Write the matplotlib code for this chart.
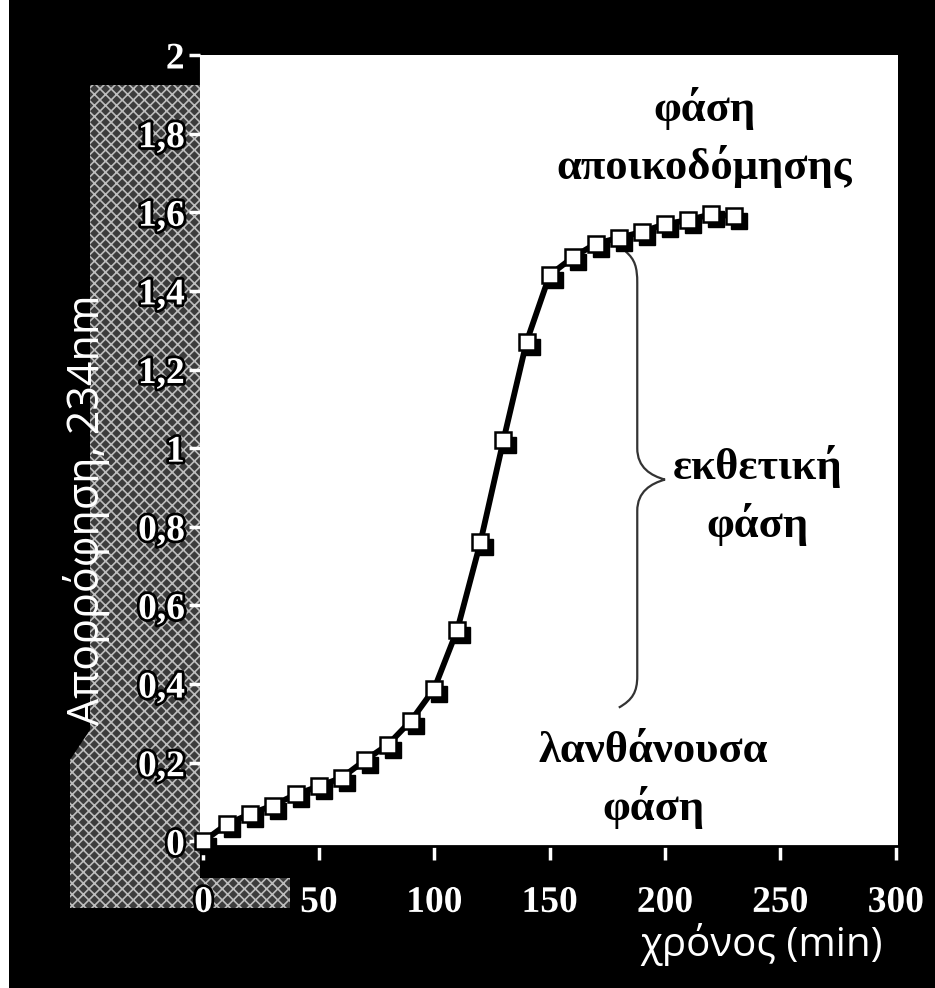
import numpy as np
import matplotlib.pyplot as plt
import matplotlib.patheffects as pe
from matplotlib.patches import Rectangle, Polygon, PathPatch
from matplotlib.path import Path
from matplotlib.transforms import offset_copy

# time (min) and absorbance at 234 nm
xronos = [0, 10, 20, 30, 40, 50, 60, 70, 80, 90, 100, 110, 120, 130, 140,
          150, 160, 170, 180, 190, 200, 210, 220, 230]
apor = [0.0, 0.043, 0.069, 0.091, 0.119, 0.14, 0.162, 0.206, 0.246, 0.307,
        0.388, 0.538, 0.76, 1.02, 1.27, 1.44, 1.485, 1.52, 1.535, 1.55,
        1.57, 1.58, 1.595, 1.59]

xticks = [0, 50, 100, 150, 200, 250, 300]
yticks = [0, 0.2, 0.4, 0.6, 0.8, 1.0, 1.2, 1.4, 1.6, 1.8, 2.0]
ylabels = ["0", "0,2", "0,4", "0,6", "0,8", "1", "1,2", "1,4", "1,6", "1,8", "2"]

W, H = 935, 988
fig = plt.figure(figsize=(W / 100, H / 100), dpi=100)
fig.patch.set_facecolor("black")

def px(x0, y0, w, h):
    # pixel box (top-left origin) -> figure fraction
    return (x0 / W, 1 - (y0 + h) / H, w / W, h / H)

# background layer in pixel coords: scanned-in grey band, white scan margin
bg = fig.add_axes([0, 0, 1, 1], zorder=-1)
bg.set_xlim(0, W)
bg.set_ylim(H, 0)
bg.axis("off")
plt.rcParams["hatch.linewidth"] = 1.2
bg.add_patch(Polygon([(90, 85), (200, 85), (200, 878), (290, 878), (290, 908),
                      (70, 908), (70, 760), (90, 730)], closed=True,
                     facecolor="#3c3c3c", edgecolor="#bdbdbd", lw=0, hatch="xxx"))
bg.add_patch(Rectangle((0, 0), 9, H, facecolor="white", edgecolor="none"))

ax = fig.add_axes(px(200, 55, 698, 791), zorder=1)
ax.set_facecolor("white")
ax.set_xlim(-1.5, 301)
ax.set_ylim(-0.012, 2.0)

ax.plot(xronos, apor, color="black", lw=4.2, solid_capstyle="round", zorder=2)
shadow = offset_copy(ax.transData, fig=fig, x=5, y=-5, units="dots")
ax.plot(xronos, apor, ls="none", marker="s", ms=12, mfc="black", mec="black",
        transform=shadow, zorder=3, clip_on=False)
ax.plot(xronos, apor, ls="none", marker="s", ms=12, mfc="white", mec="black",
        mew=1.8, zorder=4, clip_on=False)

for s in ["top", "right"]:
    ax.spines[s].set_visible(False)
ax.spines["left"].set_color("white")
ax.spines["bottom"].set_color("black")
ax.spines["bottom"].set_linewidth(2)

tickfont = dict(family="Liberation Serif", weight="bold", size=27)
outline = [pe.withStroke(linewidth=4, foreground="black")]
ax.set_xticks(xticks)
ax.set_xticklabels([str(t) for t in xticks], color="white", **tickfont)
ax.set_yticks(yticks)
ax.set_yticklabels(ylabels, color="white", **tickfont)
for lab in ax.get_xticklabels() + ax.get_yticklabels():
    lab.set_path_effects(outline)
ax.tick_params(axis="x", direction="out", length=10, width=2.5, color="white", pad=18)
ax.tick_params(axis="y", direction="out", length=8, width=2.5, color="white", pad=3)

# curly brace marking the exponential phase
bx, tip = 188, 200
verts = [(183, 1.50), (187, 1.48), (bx, 1.46), (bx, 1.42),
         (bx, 1.0),
         (bx, 0.95), (194, 0.93), (tip, 0.92),
         (194, 0.91), (bx, 0.89), (bx, 0.84),
         (bx, 0.42),
         (bx, 0.38), (186, 0.36), (180, 0.34)]
codes = [Path.MOVETO, Path.CURVE4, Path.CURVE4, Path.CURVE4,
         Path.LINETO,
         Path.CURVE4, Path.CURVE4, Path.CURVE4,
         Path.CURVE4, Path.CURVE4, Path.CURVE4,
         Path.LINETO,
         Path.CURVE4, Path.CURVE4, Path.CURVE4]
ax.add_patch(PathPatch(Path(verts, codes), facecolor="none", edgecolor="#333333",
                       lw=1.6, zorder=1))

annfont = dict(family="Liberation Serif", weight="bold", size=32, color="black",
               ha="center", va="center", linespacing=1.45)
ax.text(217, 1.79, "φάση\nαποικοδόμησης", **annfont)
ax.text(240, 0.88, "εκθετική\nφάση", **annfont)
ax.text(195, 0.155, "λανθάνουσα\nφάση", **annfont)

labfont = dict(family=["Open Sans", "DejaVu Sans"], color="white")
fig.text(87 / W, 1 - 510 / H, "Απορρόφηση, 234nm", rotation=90, ha="center",
         va="center", fontsize=31, **labfont)
fig.text(762 / W, 1 - 945 / H, "χρόνος (min)", ha="center", va="center",
         fontsize=29, **labfont)

fig.savefig("out.png", dpi=100, facecolor="black")
